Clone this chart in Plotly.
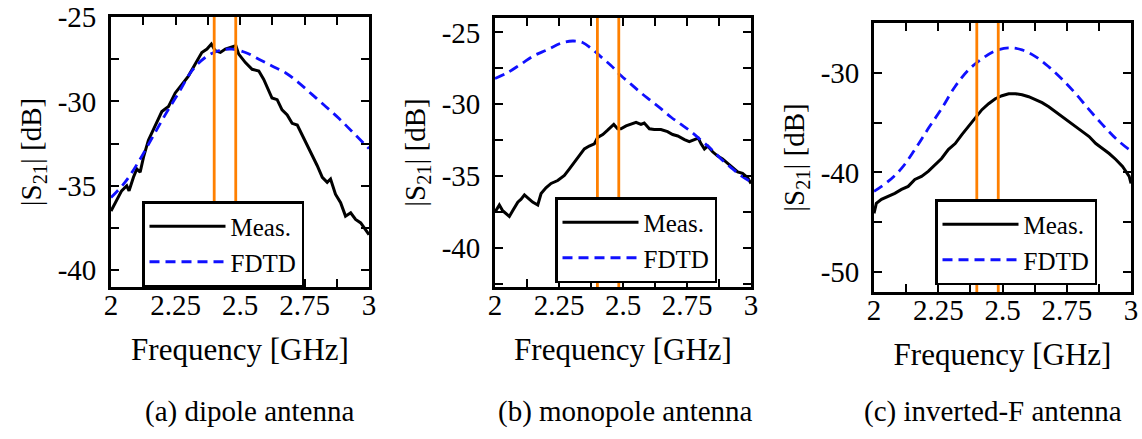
import plotly.graph_objects as go

W, H = 1142, 439
FONT = "Liberation Serif"

# ---------------- data ----------------
# (a) dipole antenna
a_meas_f = [2.0, 2.016, 2.041, 2.061, 2.07, 2.087, 2.1, 2.113, 2.126, 2.145, 2.171, 2.197, 2.223,
            2.249, 2.275, 2.3, 2.326, 2.352, 2.372, 2.389, 2.404, 2.424, 2.443, 2.462, 2.484,
            2.495, 2.521, 2.547, 2.573, 2.592, 2.611, 2.624, 2.644, 2.663, 2.683, 2.702, 2.722,
            2.741, 2.76, 2.78, 2.799, 2.819, 2.838, 2.851, 2.87, 2.89, 2.909, 2.929, 2.948,
            2.968, 2.987, 3.0]
a_meas_db = [-36.5, -36.0, -35.3, -35.0, -35.3, -34.5, -34.0, -34.2, -33.3, -32.3, -31.4, -30.6,
             -30.3, -29.5, -29.0, -28.5, -27.8, -27.1, -26.9, -26.6, -27.0, -27.1, -26.9, -26.8,
             -26.7, -27.2, -27.7, -28.1, -28.2, -28.7, -29.3, -29.8, -29.9, -30.5, -30.8, -31.3,
             -31.4, -32.0, -32.5, -33.2, -33.8, -34.5, -34.8, -34.6, -35.5, -36.0, -36.8, -36.6,
             -37.0, -37.2, -37.6, -37.9]
a_fdtd_f = [2.0, 2.054, 2.106, 2.158, 2.21, 2.262, 2.313, 2.365, 2.417, 2.469, 2.521, 2.573,
            2.624, 2.676, 2.728, 2.78, 2.832, 2.883, 2.935, 2.987, 3.0]
a_fdtd_db = [-35.7, -34.8, -33.6, -32.2, -30.8, -29.5, -28.2, -27.4, -27.0, -26.9, -27.1, -27.5,
             -27.9, -28.3, -28.9, -29.6, -30.3, -31.0, -31.8, -32.6, -32.8]

# (b) monopole antenna
b_meas_f = [2.0, 2.017, 2.03, 2.043, 2.056, 2.069, 2.089, 2.102, 2.115, 2.128, 2.147, 2.167, 2.18,
            2.199, 2.219, 2.245, 2.271, 2.29, 2.31, 2.329, 2.349, 2.368, 2.388, 2.401, 2.421, 2.44,
            2.464, 2.479, 2.492, 2.512, 2.531, 2.551, 2.57, 2.583, 2.603, 2.622, 2.648, 2.674,
            2.694, 2.714, 2.74, 2.759, 2.779, 2.794, 2.805, 2.818, 2.831, 2.85, 2.87, 2.889,
            2.909, 2.928, 2.948, 2.967, 2.987, 3.0]
b_meas_db = [-37.5, -37.0, -37.4, -37.6, -37.8, -37.4, -36.8, -36.6, -36.3, -36.5, -36.8, -37.0,
             -36.2, -35.8, -35.5, -35.3, -34.95, -34.5, -34.0, -33.6, -33.1, -32.9, -32.75, -32.3,
             -32.1, -31.8, -31.4, -31.7, -31.7, -31.5, -31.4, -31.25, -31.4, -31.3, -31.7, -31.75,
             -31.75, -31.9, -32.1, -32.2, -32.45, -32.6, -32.45, -32.35, -32.75, -33.1, -32.9,
             -33.3, -33.6, -33.8, -34.1, -34.4, -34.7, -34.8, -35.1, -35.5]
b_fdtd_f = [2.0, 2.049, 2.102, 2.154, 2.206, 2.258, 2.303, 2.342, 2.375, 2.414, 2.453, 2.492,
            2.531, 2.57, 2.609, 2.648, 2.688, 2.727, 2.766, 2.805, 2.844, 2.883, 2.922, 2.961, 3.0]
b_fdtd_db = [-28.2, -27.8, -27.2, -26.6, -26.2, -25.75, -25.6, -25.7, -26.1, -26.7, -27.3, -28.0,
             -28.6, -29.2, -29.75, -30.3, -30.9, -31.4, -31.9, -32.5, -33.1, -33.8, -34.4, -34.95,
             -35.4]

# (c) inverted-F antenna
c_meas_f = [2.0, 2.009, 2.029, 2.055, 2.081, 2.107, 2.133, 2.159, 2.185, 2.211, 2.237, 2.263,
            2.289, 2.316, 2.342, 2.368, 2.394, 2.42, 2.446, 2.472, 2.498, 2.524, 2.55, 2.576,
            2.602, 2.628, 2.654, 2.68, 2.707, 2.733, 2.759, 2.785, 2.811, 2.837, 2.863, 2.889,
            2.915, 2.941, 2.967, 2.993, 3.0]
c_meas_db = [-44.1, -43.1, -42.7, -42.4, -42.1, -41.7, -41.4, -40.7, -40.4, -39.9, -39.2, -38.6,
             -37.7, -37.1, -36.2, -35.4, -34.6, -33.7, -33.1, -32.6, -32.3, -32.1, -32.1, -32.2,
             -32.4, -32.7, -33.0, -33.4, -33.9, -34.4, -34.9, -35.4, -35.9, -36.4, -37.1, -37.6,
             -38.1, -38.7, -39.4, -40.4, -41.1]
c_fdtd_f = [2.0, 2.055, 2.107, 2.159, 2.211, 2.263, 2.315, 2.368, 2.42, 2.472, 2.524, 2.576,
            2.63, 2.68, 2.73, 2.785, 2.837, 2.889, 2.941, 2.993, 3.0]
c_fdtd_db = [-41.9, -40.9, -39.6, -37.7, -35.6, -33.6, -31.4, -29.7, -28.6, -27.8, -27.5, -27.7,
             -28.4, -29.4, -30.6, -32.1, -33.7, -35.2, -36.6, -37.7, -37.8]

ism_band = [2.4, 2.4835]

x_tickvals = [2, 2.25, 2.5, 2.75, 3]
x_ticktext = ["2", "2.25", "2.5", "2.75", "3"]
x_minor = 0.125

ab_tickvals = [-25, -30, -35, -40]
ab_ticktext = ["-25", "-30", "-35", "-40"]
ab_minor = 2.5
c_tickvals = [-30, -40, -50]
c_ticktext = ["-30", "-40", "-50"]
c_minor = 5

captions = ["(a) dipole antenna", "(b) monopole antenna", "(c) inverted-F antenna"]

# ---------------- layout geometry (px) ----------------
panels = [
    dict(l=111, r=369, t=17, b=287, yr=[-41, -25], tv=ab_tickvals, tt=ab_ticktext, mn=ab_minor,
         leg=(142, 201), cap=249,
         meas=(a_meas_f, a_meas_db), fdtd=(a_fdtd_f, a_fdtd_db)),
    dict(l=495, r=751, t=18, b=287, yr=[-42.7, -24.0], tv=ab_tickvals, tt=ab_ticktext, mn=ab_minor,
         leg=(555, 197), cap=625,
         meas=(b_meas_f, b_meas_db), fdtd=(b_fdtd_f, b_fdtd_db)),
    dict(l=874, r=1131, t=23, b=292, yr=[-52, -25], tv=c_tickvals, tt=c_ticktext, mn=c_minor,
         leg=(935, 199), cap=993,
         meas=(c_meas_f, c_meas_db), fdtd=(c_fdtd_f, c_fdtd_db)),
]

fig = go.Figure()
layout = dict(
    width=W, height=H, autosize=False,
    margin=dict(l=0, r=0, t=0, b=0, pad=0),
    paper_bgcolor="white", plot_bgcolor="white",
    font=dict(family=FONT, size=29, color="black"),
    showlegend=True,
)

ORANGE = "#ff8000"
BLUE = "#1010ff"

for i, p in enumerate(panels):
    n = "" if i == 0 else str(i + 1)
    xa, ya = "x" + n, "y" + n
    legname = "legend" + n
    fig.add_trace(go.Scatter(x=p["meas"][0], y=p["meas"][1], mode="lines", name="Meas.",
                             xaxis=xa, yaxis=ya, legend=legname,
                             line=dict(color="black", width=3)))
    fig.add_trace(go.Scatter(x=p["fdtd"][0], y=p["fdtd"][1], mode="lines", name="FDTD",
                             xaxis=xa, yaxis=ya, legend=legname,
                             line=dict(color=BLUE, width=2.8, dash="10px,6px", shape="spline")))
    for f in ism_band:
        fig.add_trace(go.Scatter(x=[f, f], y=p["yr"], mode="lines", showlegend=False,
                                 xaxis=xa, yaxis=ya, line=dict(color=ORANGE, width=2.8),
                                 hoverinfo="skip"))
    common = dict(showline=True, linecolor="black", linewidth=2.8, mirror="ticks",
                  ticks="inside", ticklen=8, tickwidth=2.4, tickcolor="black",
                  showgrid=False, zeroline=False, automargin=False,
                  tickfont=dict(family=FONT, size=29))
    layout["xaxis" + n] = dict(
        domain=[p["l"] / W, p["r"] / W], anchor=ya, range=[2, 3],
        tickmode="array", tickvals=x_tickvals, ticktext=x_ticktext,
        minor=dict(dtick=x_minor, tick0=2, ticks="inside", ticklen=8, tickwidth=2.4,
                   tickcolor="black", showgrid=False),
        ticklabelstandoff=-10,
        title=dict(text="Frequency [GHz]", font=dict(family=FONT, size=31), standoff=19),
        **common)
    layout["yaxis" + n] = dict(
        domain=[1 - p["b"] / H, 1 - p["t"] / H], anchor=xa, range=p["yr"],
        tickmode="array", tickvals=p["tv"], ticktext=p["tt"],
        minor=dict(dtick=p["mn"], tick0=-25, ticks="inside", ticklen=8, tickwidth=2.4,
                   tickcolor="black", showgrid=False),
        ticklabelstandoff=6,
        title=dict(text="|S<sub>21</sub>| [dB]", font=dict(family=FONT, size=29), standoff=8),
        **common)
    layout[legname] = dict(
        x=p["leg"][0] / W, y=1 - p["leg"][1] / H, xanchor="left", yanchor="top",
        bgcolor="white", bordercolor="black", borderwidth=2.5,
        font=dict(family=FONT, size=25), itemwidth=76, tracegroupgap=0)

annotations = []
for i, p in enumerate(panels):
    annotations.append(dict(text=captions[i], x=p["cap"] / W, y=1 - 411 / H,
                            xref="paper", yref="paper", showarrow=False,
                            xanchor="center", yanchor="middle",
                            font=dict(family=FONT, size=29, color="black")))
layout["annotations"] = annotations

fig.update_layout(**layout)
fig.write_html("out.html", config={"displayModeBar": False},
               post_script="document.body.style.margin='0px';")
